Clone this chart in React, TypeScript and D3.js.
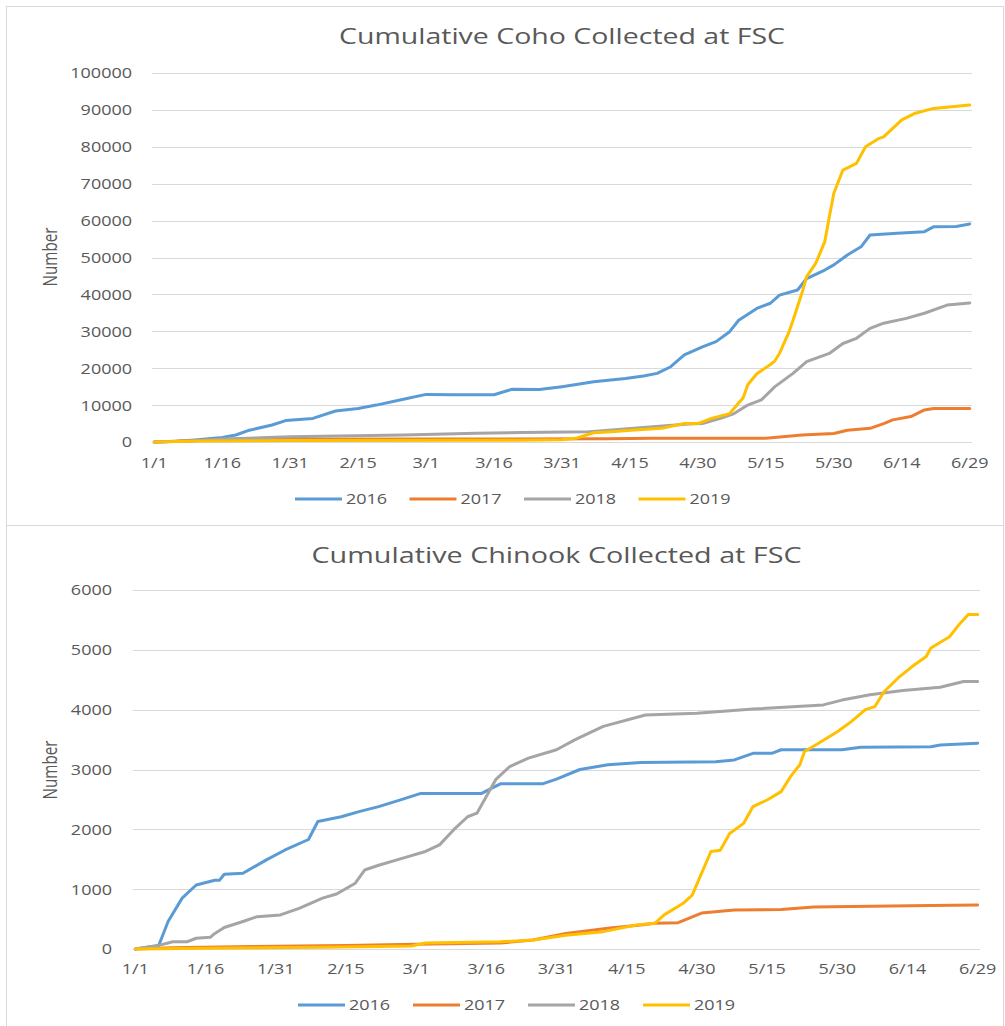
import React, { useEffect, useRef } from 'react';
import * as d3 from 'd3';

// categories: one per day, 1/1 .. 6/29 (leap-year calendar, as in the source sheet)
const days = d3.timeDay
  .range(new Date(2016, 0, 1), new Date(2016, 5, 30))
  .map(d3.timeFormat('%-m/%-d'));

const years = ['2016', '2017', '2018', '2019'];
const colors = ['#5B9BD5', '#ED7D31', '#A5A5A5', '#FFC000'];

// [day index, cumulative count]
const coho2016 = [[0,0],[5,200],[9,540],[15,1200],[18,1900],[21,3200],[26,4600],[29,5800],[35,6400],[40,8400],[45,9100],[49,10000],[55,11600],[60,12900],[66,12800],[75,12800],[79,14300],[85,14200],[90,15000],[97,16300],[104,17200],[108,17900],[111,18600],[114,20400],[117,23600],[121,25800],[124,27200],[127,29900],[129,33000],[133,36200],[136,37600],[138,39800],[142,41200],[144,44300],[148,46600],[150,48000],[153,50700],[156,52900],[158,56100],[164,56600],[170,57000],[172,58300],[177,58400],[180,59100]];
const coho2017 = [[0,0],[6,300],[15,600],[30,750],[60,800],[100,900],[110,1000],[135,1000],[143,1900],[150,2300],[153,3200],[158,3700],[161,5000],[163,6000],[167,6900],[170,8700],[172,9100],[180,9100]];
const coho2018 = [[0,0],[8,300],[15,800],[25,1200],[30,1450],[55,1900],[71,2350],[81,2600],[96,2800],[101,3250],[110,4150],[118,4900],[121,5000],[125,6400],[128,7700],[131,10000],[134,11400],[137,15000],[141,18600],[144,21800],[149,24000],[152,26700],[155,28100],[158,30800],[161,32200],[166,33500],[170,34900],[175,37100],[180,37700]];
const coho2019 = [[0,0],[10,300],[30,400],[80,500],[90,600],[93,1000],[97,2500],[101,2800],[106,3250],[112,3700],[117,5000],[120,5000],[123,6400],[127,7700],[130,12000],[131,15500],[133,18500],[136,21000],[137,22000],[138,24000],[140,29500],[141,33000],[143,40500],[144,44800],[146,48400],[148,54300],[149,61000],[150,67400],[152,73700],[155,75500],[157,80000],[160,82300],[161,82700],[165,87300],[168,89100],[172,90400],[180,91300]];

const chinook2016 = [[0,0],[5,60],[6,260],[7,460],[10,850],[13,1070],[17,1150],[18,1150],[19,1250],[23,1265],[28,1490],[32,1655],[37,1830],[39,2130],[44,2210],[48,2300],[52,2380],[57,2500],[61,2600],[74,2600],[78,2760],[87,2760],[90,2840],[95,3000],[101,3080],[108,3115],[124,3130],[128,3160],[132,3270],[136,3270],[138,3330],[151,3330],[155,3370],[170,3380],[172,3410],[180,3440]];
const chinook2017 = [[0,0],[8,20],[25,40],[45,60],[60,80],[78,100],[85,150],[92,260],[101,345],[108,400],[111,430],[116,440],[121,600],[128,650],[138,660],[145,700],[153,710],[170,725],[180,735]];
const chinook2018 = [[0,0],[5,60],[8,120],[11,120],[13,180],[16,195],[17,260],[19,360],[23,460],[26,540],[31,570],[35,680],[40,850],[43,920],[47,1100],[49,1320],[52,1400],[57,1515],[62,1630],[65,1740],[68,1990],[71,2210],[73,2270],[75,2550],[77,2830],[80,3050],[84,3190],[90,3330],[94,3500],[100,3720],[109,3910],[120,3940],[132,4010],[147,4080],[151,4160],[157,4250],[164,4320],[172,4375],[177,4470],[180,4470]];
const chinook2019 = [[0,0],[10,10],[40,30],[59,50],[62,100],[78,120],[85,150],[92,230],[100,290],[107,400],[111,430],[113,570],[117,760],[119,900],[123,1630],[125,1650],[127,1930],[130,2100],[132,2380],[135,2490],[138,2630],[140,2880],[142,3080],[143,3300],[146,3440],[150,3630],[153,3800],[156,4000],[158,4050],[160,4300],[163,4530],[166,4720],[169,4890],[170,5030],[174,5220],[176,5420],[178,5590],[180,5590]];

const cohoTicks = [0, 10000, 20000, 30000, 40000, 50000, 60000, 70000, 80000, 90000, 100000];
const chinookTicks = [0, 1000, 2000, 3000, 4000, 5000, 6000];

const panels = [
  {
    title: 'Cumulative Coho Collected at FSC', titleY: 44, titleW: 446,
    series: [coho2016, coho2017, coho2018, coho2019], ticks: cohoTicks,
    left: 152, right: 972, top: 73, bottom: 442, yLabelX: 132,
    xLabelY: 468, axisTitleY: 257, legendY: 499, legendX: 295, legendStep: 114.5,
  },
  {
    title: 'Cumulative Chinook Collected at FSC', titleY: 563, titleW: 490,
    series: [chinook2016, chinook2017, chinook2018, chinook2019], ticks: chinookTicks,
    left: 133, right: 980, top: 590, bottom: 949, yLabelX: 112,
    xLabelY: 974, axisTitleY: 770, legendY: 1005, legendX: 298, legendStep: 115,
  },
];

const FONT = '"Open Sans", "DejaVu Sans", sans-serif';
const TEXT = '#595959';
const GRID = '#d9d9d9';

export default function App() {
  const ref = useRef(null);

  useEffect(() => {
    const svg = d3.select(ref.current);
    svg.selectAll('*').remove();

    // chart frames
    svg.append('rect').attr('x', 6.5).attr('y', 6.5).attr('width', 997).attr('height', 519)
      .attr('fill', 'none').attr('stroke', GRID);
    svg.append('rect').attr('x', 6.5).attr('y', 525.5).attr('width', 997).attr('height', 520)
      .attr('fill', 'none').attr('stroke', GRID);

    panels.forEach(p => {
      const g = svg.append('g');
      const x = d3.scalePoint().domain(days).range([p.left, p.right]).padding(0.5);
      const y = d3.scaleLinear().domain([0, p.ticks[p.ticks.length - 1]]).range([p.bottom, p.top]);

      // gridlines
      g.selectAll('line.grid').data(p.ticks).enter().append('line')
        .attr('x1', p.left).attr('x2', p.right)
        .attr('y1', d => Math.round(y(d)) + 0.5).attr('y2', d => Math.round(y(d)) + 0.5)
        .attr('stroke', GRID).attr('stroke-width', 1);

      // y tick labels
      g.selectAll('text.ytick').data(p.ticks).enter().append('text')
        .attr('transform', d => `translate(${p.yLabelX},${y(d)}) scale(1.2,1)`)
        .attr('dy', '0.36em').attr('text-anchor', 'end')
        .attr('font-family', FONT).attr('font-size', 15).attr('fill', TEXT)
        .text(d => d);

      // x tick labels every 15 days
      const xt = days.filter((d, i) => i % 15 === 0);
      g.selectAll('text.xtick').data(xt).enter().append('text')
        .attr('transform', d => `translate(${x(d)},${p.xLabelY}) scale(1.2,1)`)
        .attr('text-anchor', 'middle')
        .attr('font-family', FONT).attr('font-size', 15).attr('fill', TEXT)
        .text(d => d);

      // series lines
      const line = d3.line()
        .x(d => x(days[d[0]]))
        .y(d => y(d[1]));
      p.series.forEach((s, i) => {
        g.append('path')
          .attr('d', line(s))
          .attr('fill', 'none')
          .attr('stroke', colors[i])
          .attr('stroke-width', 3)
          .attr('stroke-linejoin', 'round')
          .attr('stroke-linecap', 'round');
      });

      // chart title
      g.append('text')
        .attr('x', (p.left + p.right) / 2).attr('y', p.titleY)
        .attr('text-anchor', 'middle')
        .attr('textLength', p.titleW).attr('lengthAdjust', 'spacingAndGlyphs')
        .attr('font-family', FONT).attr('font-size', 21).attr('fill', TEXT)
        .text(p.title);

      // axis title
      g.append('text')
        .attr('transform', `translate(57,${p.axisTitleY}) scale(1.4,1) rotate(-90)`)
        .attr('text-anchor', 'middle')
        .attr('textLength', 59).attr('lengthAdjust', 'spacingAndGlyphs')
        .attr('font-family', FONT).attr('font-size', 14).attr('fill', TEXT)
        .text('Number');

      // legend
      years.forEach((yr, i) => {
        const lx = p.legendX + i * p.legendStep;
        g.append('line')
          .attr('x1', lx).attr('x2', lx + 47)
          .attr('y1', p.legendY).attr('y2', p.legendY)
          .attr('stroke', colors[i]).attr('stroke-width', 3);
        g.append('text')
          .attr('transform', `translate(${lx + 51},${p.legendY}) scale(1.2,1)`)
          .attr('dy', '0.36em')
          .attr('font-family', FONT).attr('font-size', 15).attr('fill', TEXT)
          .text(yr);
      });
    });
  }, []);

  return (
    <svg ref={ref} width={1005} height={1026}
      style={{ position: 'absolute', left: 0, top: 0, background: '#fff' }} />
  );
}
